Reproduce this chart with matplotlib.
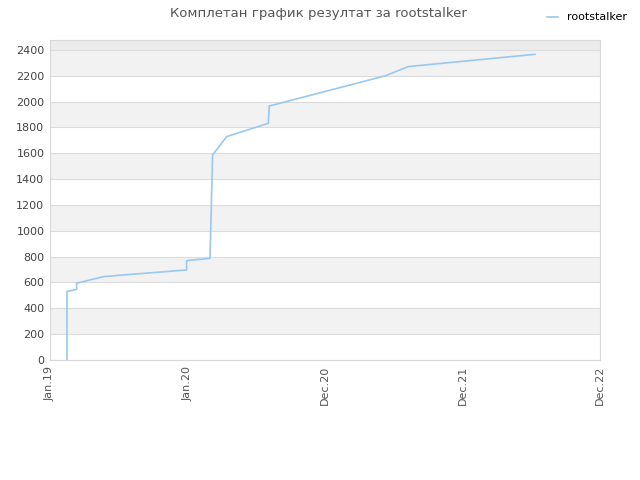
import matplotlib
matplotlib.use("Agg")
import matplotlib.pyplot as plt

# x in tick units (0 = Jan.19, 1 = Jan.20, 2 = Dec.20, 3 = Dec.21, 4 = Dec.22)
x = [0.124, 0.124, 0.194, 0.194, 0.388, 0.533, 0.994, 0.994, 1.164, 1.183,
     1.285, 1.588, 1.595, 2.436, 2.606, 3.527]
score = [0, 530, 547, 594, 645, 658, 697, 769, 787, 1587,
         1729, 1832, 1966, 2199, 2271, 2366]
tick_labels = ["Jan.19", "Jan.20", "Dec.20", "Dec.21", "Dec.22"]
yticks = list(range(0, 2401, 200))

fig = plt.figure(figsize=(6.4, 4.8), dpi=100)
ax = fig.add_axes([0.078, 0.25, 0.8595, 0.6667])

ymax = 2477
for i, lo in enumerate(yticks):
    hi = min(lo + 200, ymax)
    color = "#f2f2f2" if i % 2 == 1 else "white"
    if lo == 2400:
        color = "#ececec"
    ax.axhspan(lo, hi, color=color, zorder=0, lw=0)
for y in yticks:
    ax.axhline(y, color="#dcdcdc", lw=0.8, zorder=1)

ax.plot(x, score, color="#99c8f0", lw=1.2, zorder=3, label="rootstalker")

ax.set_xlim(0, 4)
ax.set_ylim(0, ymax)
ax.set_xticks(range(5))
ax.set_xticklabels(tick_labels, rotation=90, fontsize=8, color="#555555")
ax.set_yticks(yticks)
ax.set_yticklabels([str(v) for v in yticks], fontsize=8, color="#444444")
ax.tick_params(length=0, pad=4)
for s in ax.spines.values():
    s.set_color("#d8d8d8")

fig.text(0.497, 0.972, "Комплетан график резултат за rootstalker",
         ha="center", va="center", fontsize=9.5, color="#555555")
leg = fig.legend(loc="upper right", bbox_to_anchor=(0.995, 0.995), frameon=False,
                 fontsize=8, handlelength=1.0)
fig.savefig("out.png", dpi=100)
